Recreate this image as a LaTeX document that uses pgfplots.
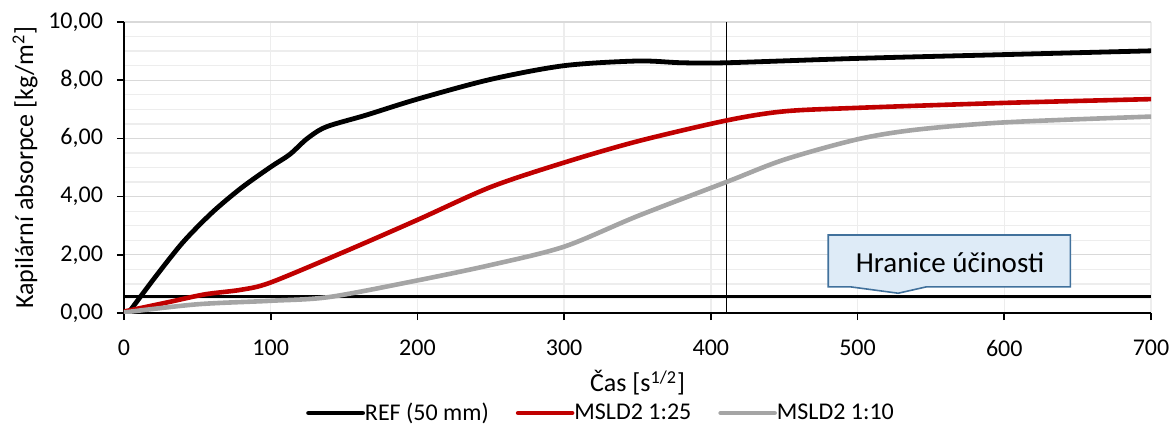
\documentclass[border=0pt]{standalone}
\usepackage{fontspec}
\setmainfont{Carlito}
\usepackage{pgfplots}
\pgfplotsset{compat=1.18}
\definecolor{cRed}{HTML}{C00000}
\definecolor{cGray}{HTML}{A5A5A5}
\definecolor{cFill}{HTML}{DEEBF7}
\definecolor{cBorder}{HTML}{41719C}
\definecolor{gMaj}{HTML}{D9D9D9}
\definecolor{gMin}{HTML}{EDEDED}
\begin{document}
\begin{tikzpicture}
\useasboundingbox (-62pt,-56pt) rectangle (524pt,156.5pt);
\begin{axis}[
  at={(0pt,0pt)}, anchor=south west,
  scale only axis,
  width=513.5pt, height=145.5pt,
  xmin=0, xmax=700, ymin=0, ymax=10,
  xtick={0,100,...,700},
  ytick={0,2,...,10},
  minor y tick num=3,
  minor tick length=0pt,
  major tick length=3.5pt,
  tick align=outside,
  axis lines*=left,
  axis line style={-, line width=0.8pt, black},
  every tick/.style={line width=0.8pt, black},
  xmajorgrids, ymajorgrids, yminorgrids,
  major x grid style={line width=0.65pt, color=gMin},
  major y grid style={line width=0.65pt, color=gMaj},
  minor y grid style={line width=0.65pt, color=gMin},
  /pgf/number format/assume math mode=true,
  tick label style={font=\fontsize{12}{14}\selectfont},
  yticklabel style={xshift=-3.5pt, /pgf/number format/.cd, fixed, fixed zerofill, precision=2, use comma},
  xticklabel style={yshift=-6.5pt, /pgf/number format/.cd, 1000 sep={}},
  xlabel={Čas [s\textsuperscript{1/2}]},
  ylabel={Kapilární absorpce [kg/m\textsuperscript{2}]},
  label style={font=\fontsize{13}{15}\selectfont},
  xlabel style={at={(axis description cs:0.5,-0.2405)}, anchor=center},
  ylabel style={at={(axis description cs:-0.0964,0.5)}, anchor=center},
  legend columns=3,
  legend style={draw=none, fill=none, at={(axis description cs:0.4645,-0.3436)}, anchor=center,
    font=\fontsize{12}{14}\selectfont,
    /tikz/every even column/.append style={column sep=12.5pt},
    /tikz/every odd column/.append style={column sep=-1pt},
    nodes={inner sep=1pt}},
  legend image code/.code={\draw[#1, line cap=round] (0pt,0pt) -- (27pt,0pt);},
  legend cell align=left,
]
% threshold line and vertical marker
\addplot[black, line width=1.6pt, forget plot] coordinates {(0,0.57) (700,0.57)};
\addplot[black, line width=0.5pt, forget plot] coordinates {(411,0) (411,10)};
% REF (50 mm)
\addplot[black, line width=2.4pt, line cap=round, smooth, tension=0.5] coordinates {
(3,0.0) (20,1.15) (40,2.42) (60,3.45) (80,4.3) (100,5.02) (113,5.45) (125,6.0) (138,6.4)
(165,6.8) (200,7.35) (250,8.03) (300,8.5) (350,8.66) (380,8.6) (411,8.6)
(500,8.75) (600,8.88) (700,9.01)
};
\addlegendentry{REF (50 mm)}
% MSLD2 1:25
\addplot[cRed, line width=2.3pt, line cap=round, smooth, tension=0.5] coordinates {
(0,0.05) (30,0.37) (55,0.64) (80,0.8) (100,1.05) (150,2.1) (200,3.2) (250,4.33)
(300,5.17) (350,5.9) (411,6.62) (450,6.93) (500,7.05) (600,7.22) (700,7.35)
};
\addlegendentry{MSLD2 1:25}
% MSLD2 1:10
\addplot[cGray, line width=2.3pt, line cap=round, smooth, tension=0.5] coordinates {
(0,0.02) (50,0.3) (100,0.42) (140,0.55) (200,1.12) (250,1.65) (300,2.28) (350,3.33)
(411,4.51) (450,5.27) (500,5.97) (540,6.3) (600,6.55) (700,6.75)
};
\addlegendentry{MSLD2 1:10}
% callout
\draw[cBorder, fill=cFill, line width=0.8pt]
  (axis cs:480,0.90) -- (axis cs:495,0.90) -- (axis cs:527.7,0.68) -- (axis cs:547,0.90)
  -- (axis cs:645,0.90) -- (axis cs:645,2.68) -- (axis cs:480,2.68) -- cycle;
\node[font=\fontsize{14.5}{17}\selectfont, anchor=center] at (axis cs:563,1.75) {Hranice účinosti};
\end{axis}
\end{tikzpicture}
\end{document}
